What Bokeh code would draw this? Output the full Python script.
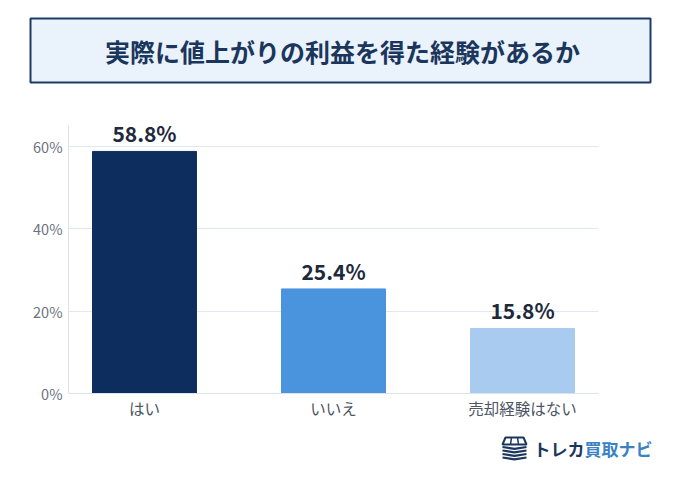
from bokeh.plotting import figure
from bokeh.layouts import column, row
from bokeh.models import Range1d, FixedTicker, PrintfTickFormatter, ColumnDataSource
from bokeh.core.properties import value
from bokeh.embed import file_html
from bokeh.resources import INLINE

# ---- data ----
title_text = "実際に値上がりの利益を得た経験があるか"
categories = ["はい", "いいえ", "売却経験はない"]
values = [58.8, 25.4, 15.8]
bar_colors = ["#0d2d5e", "#4a94de", "#a9cbef"]
y_ticks = [0, 20, 40, 60]
brand_dark = "トレカ"
brand_blue = "買取ナビ"

FONT = "Noto Sans CJK JP"
W = 672

# ---- title figure ----
t = figure(width=W, height=108, output_backend="svg", toolbar_location=None,
           x_range=Range1d(0, W), y_range=Range1d(0, 108),
           x_axis_type=None, y_axis_type=None, min_border=0)
t.grid.visible = False
t.outline_line_color = None
t.quad(left=[30], right=[650], bottom=[26], top=[90],
       fill_color="#eaf2fb", line_color="#1b3a66", line_width=2)
t.text(x=[342], y=[58], text=[title_text], text_align="center", text_baseline="middle",
       text_font=value(FONT), text_font_style="bold", text_font_size="25px",
       text_color="#1b365d")

# ---- main chart ----
xs = list(range(len(categories)))
src = ColumnDataSource(dict(x=xs, v=values, color=bar_colors,
                            lab=[f"{v:.1f}%" for v in values]))
p = figure(width=W, height=320, output_backend="svg", toolbar_location=None,
           x_range=Range1d(-0.402, 2.402), y_range=Range1d(0, 65.1),
           min_border_left=68, min_border_right=W - 598, min_border_top=17, min_border_bottom=35)
p.outline_line_color = None
p.vbar(x="x", top="v", width=0.55, color="color", source=src)
p.text(x="x", y="v", text="lab", source=src, text_align="center",
       text_baseline="alphabetic", y_offset=-18,
       text_font=value(FONT), text_font_style="bold", text_font_size="21px",
       text_color="#1e293b")

p.xgrid.visible = False
p.ygrid.ticker = FixedTicker(ticks=y_ticks)
p.ygrid.grid_line_color = "#e2e6f3"
p.yaxis.ticker = FixedTicker(ticks=y_ticks)
p.yaxis.formatter = PrintfTickFormatter(format="%d%%")
p.yaxis.axis_line_color = "#dde3ee"
p.yaxis.major_tick_line_color = None
p.yaxis.minor_tick_line_color = None
p.yaxis.major_tick_out = 0
p.yaxis.minor_tick_out = 0
p.yaxis.major_label_text_font = FONT
p.yaxis.major_label_text_font_size = "14.5px"
p.yaxis.major_label_text_color = "#6b7280"
p.yaxis.major_label_standoff = 6

p.xaxis.ticker = FixedTicker(ticks=xs)
p.xaxis.major_label_overrides = {i: c for i, c in enumerate(categories)}
p.xaxis.axis_line_color = "#dde3ee"
p.xaxis.major_tick_line_color = None
p.xaxis.minor_tick_line_color = None
p.xaxis.major_tick_out = 0
p.xaxis.minor_tick_out = 0
p.xaxis.major_label_text_font = FONT
p.xaxis.major_label_text_font_size = "15.5px"
p.xaxis.major_label_text_color = "#4b5563"
p.xaxis.major_label_standoff = 3

# ---- logo figure ----
g = figure(width=W, height=50, output_backend="svg", toolbar_location=None,
           x_range=Range1d(0, W), y_range=Range1d(0, 50),
           x_axis_type=None, y_axis_type=None, min_border=0)
g.grid.visible = False
g.outline_line_color = None
navy = "#1b365d"
g.patch([505, 523, 526, 502], [41, 41, 34, 34], fill_color=None, line_color=navy, line_width=2)
g.segment(x0=[511, 517], y0=[41, 41], x1=[510, 518], y1=[34, 34], line_color=navy, line_width=1.5)
for yy in [31.5, 28, 24.5, 21]:
    g.line([502, 514, 526], [yy, yy - 1.8, yy], line_color=navy, line_width=2.2)
g.text(x=[533], y=[30], text=[brand_dark], text_align="left", text_baseline="middle",
       text_font=value(FONT), text_font_style="bold", text_font_size="17px", text_color=navy)
g.text(x=[584], y=[30], text=[brand_blue], text_align="left", text_baseline="middle",
       text_font=value(FONT), text_font_style="bold", text_font_size="17px", text_color="#3b82c4")

layout = column(row(t), p, row(g), spacing=0)
open("out.html", "w").write(file_html(layout, INLINE))
